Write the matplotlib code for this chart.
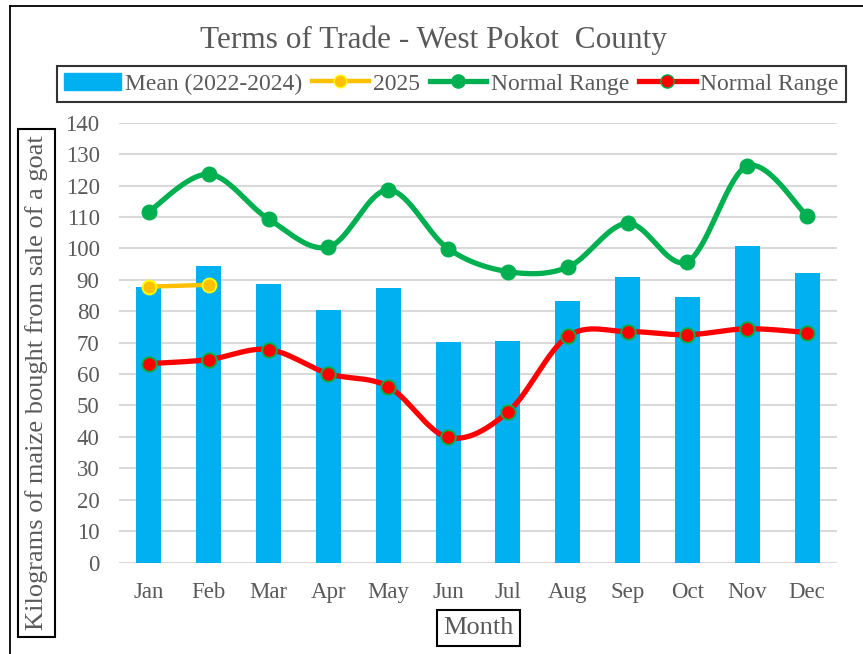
import numpy as np
import matplotlib
matplotlib.use("Agg")
import matplotlib.pyplot as plt
from matplotlib.lines import Line2D

months = ["Jan", "Feb", "Mar", "Apr", "May", "Jun", "Jul", "Aug", "Sep", "Oct", "Nov", "Dec"]
mean_2022_2024 = [87.8, 94.5, 88.8, 80.4, 87.5, 70.1, 70.5, 83.4, 91.0, 84.5, 100.6, 92.2]
y2025 = [87.8, 88.4]
normal_upper = [111.7, 123.6, 109.3, 100.4, 118.6, 99.9, 92.6, 94.0, 108.0, 95.8, 126.2, 110.3]
normal_lower = [63.3, 64.6, 67.8, 60.1, 56.0, 39.8, 47.9, 72.0, 73.5, 72.5, 74.4, 73.2]
yticks = list(range(0, 141, 10))

TXT = "#595959"
plt.rcParams["font.family"] = ["Liberation Serif", "DejaVu Serif"]


def smooth(xs, ys, n=40):
    xs = np.asarray(xs, float)
    ys = np.asarray(ys, float)
    px = np.concatenate([[xs[0]], xs, [xs[-1]]])
    py = np.concatenate([[ys[0]], ys, [ys[-1]]])
    outx, outy = [], []
    t = np.linspace(0, 1, n)
    for i in range(1, len(px) - 2):
        p0x, p0y = px[i], py[i]
        p3x, p3y = px[i + 1], py[i + 1]
        c1x = p0x + (px[i + 1] - px[i - 1]) / 6
        c1y = p0y + (py[i + 1] - py[i - 1]) / 6
        c2x = p3x - (px[i + 2] - px[i]) / 6
        c2y = p3y - (py[i + 2] - py[i]) / 6
        bx = (1 - t) ** 3 * p0x + 3 * (1 - t) ** 2 * t * c1x + 3 * (1 - t) * t ** 2 * c2x + t ** 3 * p3x
        by = (1 - t) ** 3 * p0y + 3 * (1 - t) ** 2 * t * c1y + 3 * (1 - t) * t ** 2 * c2y + t ** 3 * p3y
        outx.extend(bx)
        outy.extend(by)
    return np.array(outx), np.array(outy)


fig = plt.figure(figsize=(8.63, 6.54), dpi=100)
ax = fig.add_axes([0.1379, 0.1399, 0.832, 0.6725])

x = np.arange(len(months))
ax.bar(x, mean_2022_2024, width=0.42, color="#00B0F0", zorder=2)

x25 = np.arange(len(y2025))
ax.plot(x25, y2025, color="#FFC000", lw=3.2, zorder=3)
ax.plot(x25, y2025, ls="none", marker="o", ms=10, mfc="#FFC000", mec="#FFFF00", mew=1.4, zorder=4)

sx, sy = smooth(x, normal_upper)
ax.plot(sx, sy, color="#00B050", lw=3.8, zorder=3, solid_capstyle="round")
ax.plot(x, normal_upper, ls="none", marker="o", ms=10.5, mfc="#00B050", mec="#00B050", zorder=4)

sx, sy = smooth(x, normal_lower)
ax.plot(sx, sy, color="#FF0000", lw=3.8, zorder=3, solid_capstyle="round")
ax.plot(x, normal_lower, ls="none", marker="o", ms=10.5, mfc="#FF0000", mec="#00B050", mew=1.4, zorder=4)

ax.set_xlim(-0.5, len(months) - 0.5)
ax.set_ylim(0, 140)
ax.set_yticks(yticks)
ax.set_xticks(x)
ax.set_xticklabels(months)
for s in ax.spines.values():
    s.set_visible(False)
ax.grid(axis="y", color="#D9D9D9", lw=1.5, zorder=0)
ax.set_axisbelow(True)
ax.tick_params(axis="both", length=0, labelsize=16.5, colors=TXT)
ax.tick_params(axis="y", pad=14)
ax.tick_params(axis="x", pad=14)

fig.text(0.502, 0.938, "Terms of Trade - West Pokot  County", ha="center", va="center",
         fontsize=22.5, color=TXT)

fig.text(0.0423, 0.4144, "Kilograms of maize bought from sale of a goat", rotation=90,
         ha="center", va="center", fontsize=19, color=TXT,
         bbox=dict(boxstyle="square,pad=0.25", fc="white", ec="black", lw=1.5))
fig.text(0.5545, 0.0398, "Month", ha="center", va="center", fontsize=19, color=TXT,
         bbox=dict(boxstyle="square,pad=0.25", fc="white", ec="black", lw=1.5))

handles = [
    plt.Rectangle((0, 0), 1, 1, color="#00B0F0"),
    Line2D([], [], color="#FFC000", lw=3.2, marker="o", ms=9, mfc="#FFC000", mec="#FFFF00"),
    Line2D([], [], color="#00B050", lw=3.8, marker="o", ms=9.5, mfc="#00B050", mec="#00B050"),
    Line2D([], [], color="#FF0000", lw=3.8, marker="o", ms=9.5, mfc="#FF0000", mec="#00B050"),
]
labels = ["Mean (2022-2024)", "2025", "Normal Range", "Normal Range"]
leg = fig.legend(handles, labels, loc="center", ncol=4, mode="expand",
                 bbox_to_anchor=(0.066, 0.843, 0.914, 0.0573),
                 fontsize=17, labelcolor=TXT, frameon=True, fancybox=False,
                 handlelength=2.4, handletextpad=0.2, columnspacing=0.3,
                 borderpad=0.3, borderaxespad=0)
leg.get_frame().set_edgecolor("black")
leg.get_frame().set_linewidth(1.5)

# outer chart border (top and left visible)
fig.add_artist(Line2D([10 / 863, 1.0], [1 - 5.5 / 654] * 2, transform=fig.transFigure, color="black", lw=1.3))
fig.add_artist(Line2D([10 / 863] * 2, [0, 1 - 5.5 / 654], transform=fig.transFigure, color="black", lw=1.3))

fig.savefig("out.png", dpi=100)
